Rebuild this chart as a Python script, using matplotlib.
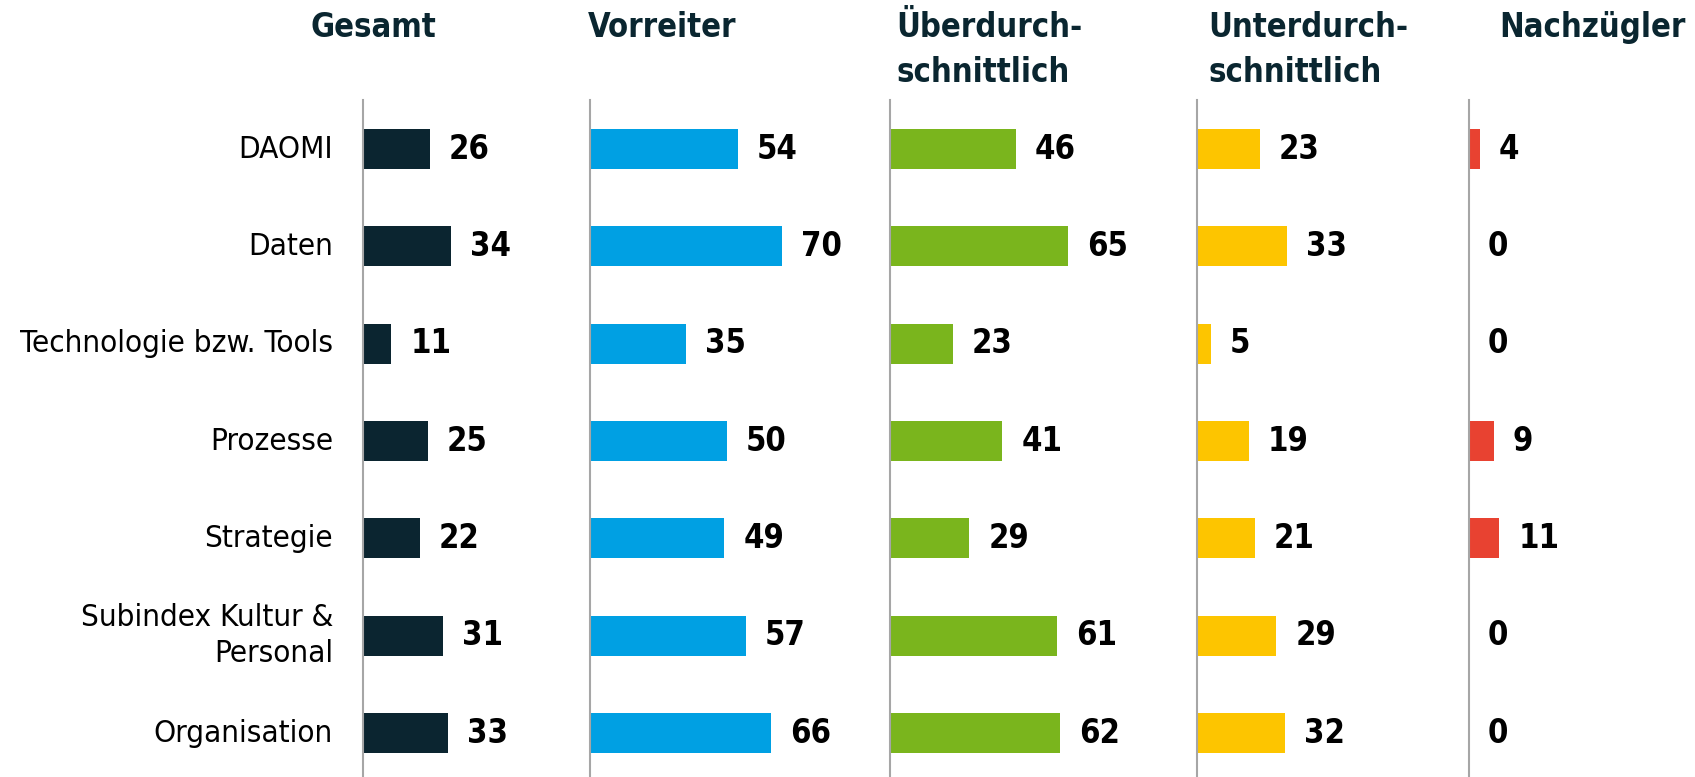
import matplotlib.pyplot as plt

# Anteile je Dimension und Reifegruppe
kategorien = ["DAOMI", "Daten", "Technologie bzw. Tools", "Prozesse",
              "Strategie", "Subindex Kultur &\nPersonal", "Organisation"]
gruppen = [["Gesamt"], ["Vorreiter"], ["Überdurch-", "schnittlich"],
           ["Unterdurch-", "schnittlich"], ["Nachzügler"]]
gesamt = [26, 34, 11, 25, 22, 31, 33]
vorreiter = [54, 70, 35, 50, 49, 57, 66]
ueber = [46, 65, 23, 41, 29, 61, 62]
unter = [23, 33, 5, 19, 21, 29, 32]
nachzuegler = [4, 0, 0, 9, 11, 0, 0]

werte = [gesamt, vorreiter, ueber, unter, nachzuegler]
farben = ["#0b2530", "#00a0e3", "#7ab51d", "#fdc500", "#e84231"]

W, H = 1695, 777
plt.rcParams["font.family"] = ["DejaVu Sans"]
plt.rcParams["font.stretch"] = "condensed"

fig = plt.figure(figsize=(W / 100, H / 100), dpi=100)

achsen_x = [363, 590, 890, 1197, 1469]      # Lage der Nulllinien (px)
px_pro_einheit = [2.58, 2.74, 2.74, 2.74, 2.74]
breite = 200
titel_x = [311, 588, 896, 1208, 1499]

for k, (x0, werte_k, farbe) in enumerate(zip(achsen_x, werte, farben)):
    ax = fig.add_axes([x0 / W, 0, breite / W, (H - 100) / H])
    ax.barh(range(len(werte_k)), werte_k, height=0.41, color=farbe)
    ax.set_xlim(0, breite / px_pro_einheit[k])
    ax.set_ylim(6.452, -0.504)
    for s in ["top", "right", "bottom"]:
        ax.spines[s].set_visible(False)
    ax.spines["left"].set_color("#a6a6a6")
    ax.spines["left"].set_linewidth(1.5)
    ax.set_xticks([])
    ax.set_yticks([])
    ax.patch.set_alpha(0)

    for i, v in enumerate(werte_k):
        ax.annotate(str(v), xy=(v, i), xytext=(19, 0), textcoords="offset pixels",
                    ha="left", va="center", fontsize=23.5, fontweight="bold",
                    color="black")

    if k == 0:
        for i, name in enumerate(kategorien):
            ax.annotate(name, xy=(0, i), xytext=(-30, 0), textcoords="offset pixels",
                        ha="right", va="center", fontsize=22.5, color="black",
                        multialignment="right", linespacing=1.3)

    # Spaltenkopf, ein- oder zweizeilig
    for j, zeile in enumerate(gruppen[k]):
        fig.text(titel_x[k] / W, 1 - (37 + 45 * j) / H, zeile, ha="left",
                 va="baseline", fontsize=23.5, fontweight="bold", color="#0a2630")

fig.savefig("out.png", dpi=100)
